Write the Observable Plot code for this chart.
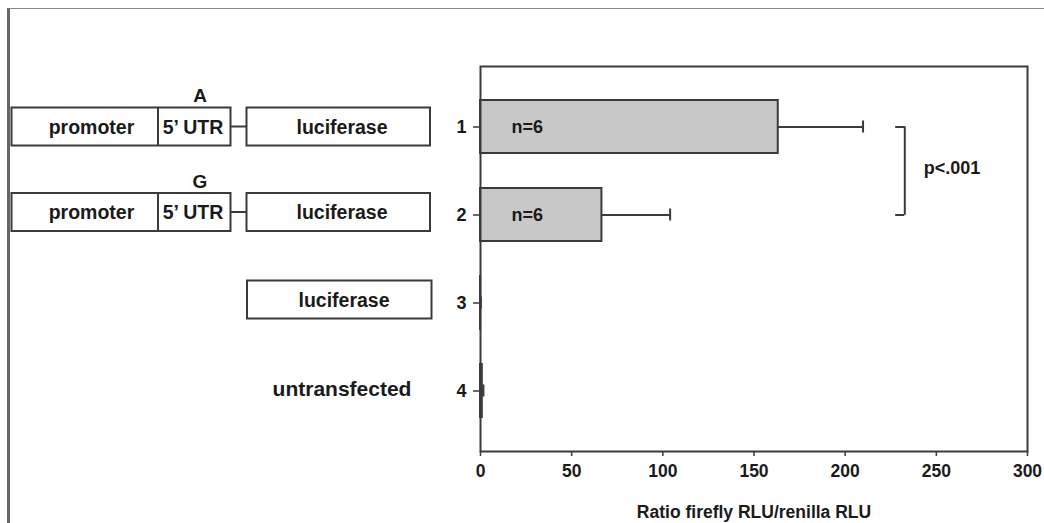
<!DOCTYPE html>
<html><head><meta charset="utf-8">
<script src="https://cdn.jsdelivr.net/npm/d3@7"></script>
<script src="https://cdn.jsdelivr.net/npm/@observablehq/plot@0.6"></script>
<style>
body{margin:0;background:#fff;}
#wrap{position:relative;width:1044px;height:523px;overflow:hidden;background:#fff;}
#border{position:absolute;left:7px;top:8px;right:-2px;bottom:-2px;border-top:1.5px solid #8a8a8a;border-left:3px solid #666;pointer-events:none;}
svg{font-family:"Liberation Sans",Arial,sans-serif;font-weight:bold;}
</style></head><body><div id="wrap"><div id="border"></div></div>
<script>
// ---- data ----
const constructs = ["1", "2", "3", "4"];
const ratio = [163.3, 66.6, 0.1, 1.0];
const sem = [46.5, 37.4, 0.1, 0.6];
const nLabels = ["n=6", "n=6", "", ""];
const alleles = ["A", "G", "", ""];
const diagramParts = [
  ["promoter", "5\u2019 UTR", "luciferase"],
  ["promoter", "5\u2019 UTR", "luciferase"],
  ["luciferase"],
  ["untransfected"]
];
const xTicks = [0, 50, 100, 150, 200, 250, 300];
const xLabel = "Ratio firefly RLU/renilla RLU";
const compared = ["1", "2"];
const pLabel = "p<.001";
const bracketX = 232.7;

const data = constructs.map((c, i) => ({construct: c, ratio: ratio[i], sem: sem[i], n: nLabels[i]}));
const ink = "#3a3a3a";
const bw = 52.5; // approx band height in px, used for insets of bracket/caps

const chart = Plot.plot({
  width: 1044,
  height: 523,
  marginLeft: 480,
  marginRight: 17,
  marginTop: 66,
  marginBottom: 72,
  style: {fontFamily: '"Liberation Sans", Arial, sans-serif', fontWeight: "bold", color: "#1a1a1a", background: "transparent"},
  x: {domain: [0, 300], ticks: xTicks, label: xLabel, labelAnchor: "center", labelArrow: "none"},
  y: {domain: constructs, paddingInner: 0.403, paddingOuter: 0.387, label: null},
  marks: [
    Plot.barX(data, {x: "ratio", y: "construct", fill: "#c8c8c8", stroke: ink, strokeWidth: 2}),
    Plot.ruleY(data, {y: "construct", x1: "ratio", x2: d => d.ratio + d.sem, stroke: ink, strokeWidth: 2}),
    Plot.tickX(data, {x: d => d.ratio + d.sem, y: "construct", insetTop: 20.5, insetBottom: 20.5, stroke: ink, strokeWidth: 2}),
    Plot.text(data, {x: 0, y: "construct", text: "n", dx: 31, textAnchor: "start", fontSize: 18, fontWeight: "bold", fill: "#1a1a1a"}),
    Plot.ruleX([bracketX], {y1: () => compared[0], y2: () => compared[1], insetTop: bw / 2, insetBottom: bw / 2, stroke: ink, strokeWidth: 2}),
    Plot.ruleY(compared, {y: d => d, x1: bracketX - 5, x2: bracketX, stroke: ink, strokeWidth: 2}),
    Plot.text([pLabel], {x: bracketX, y: () => compared[0], text: d => d, dx: 19, dy: 41, textAnchor: "start", fontSize: 18, fontWeight: "bold", fill: "#1a1a1a"}),
    Plot.frame({stroke: ink, strokeWidth: 2}),
    Plot.axisY({tickSize: 7, tickPadding: 7, fontSize: 18, stroke: ink, strokeWidth: 1.5, fill: "#1a1a1a"}),
    Plot.axisX({ticks: xTicks, tickSize: 5, tickPadding: 8, fontSize: 17.5, stroke: ink, strokeWidth: 1.5, fill: "#1a1a1a",
      label: xLabel, labelAnchor: "center", labelOffset: 66, labelArrow: "none"})
  ]
});

document.getElementById("wrap").prepend(chart);

// ---- construct diagrams, aligned to the y scale ----
const ys = chart.scale("y");
const rowShift = [0, -2.5, -3, -2];
const cy = (c, i) => ys.apply(c) + ys.bandwidth / 2 + rowShift[i];
const svg = d3.select(chart);
const g = svg.append("g").attr("fill", "none").attr("stroke", ink).attr("stroke-width", 2);
const tg = svg.append("g").attr("fill", "#1a1a1a").attr("font-size", 19.5).attr("font-weight", "bold")
  .attr("text-anchor", "middle").attr("dominant-baseline", "central");
const boxH = 38;
constructs.forEach((c, i) => {
  const y = cy(c, i);
  const parts = diagramParts[i];
  if (parts.length === 3) {
    g.append("rect").attr("x", 11.5).attr("y", y - boxH / 2).attr("width", 219).attr("height", boxH);
    g.append("line").attr("x1", 158).attr("x2", 158).attr("y1", y - boxH / 2).attr("y2", y + boxH / 2);
    g.append("line").attr("x1", 230.5).attr("x2", 246.5).attr("y1", y).attr("y2", y);
    g.append("rect").attr("x", 246.5).attr("y", y - boxH / 2).attr("width", 183.5).attr("height", boxH);
    tg.append("text").attr("x", 91.5).attr("y", y).text(parts[0]);
    tg.append("text").attr("x", 193).attr("y", y).text(parts[1]);
    tg.append("text").attr("x", 342).attr("y", y).text(parts[2]);
    tg.append("text").attr("x", 200).attr("y", y - boxH / 2 - 12).attr("font-size", 19).text(alleles[i]);
  } else if (parts[0] === "luciferase") {
    g.append("rect").attr("x", 247).attr("y", y - boxH / 2).attr("width", 184.5).attr("height", boxH);
    tg.append("text").attr("x", 344).attr("y", y).text(parts[0]);
  } else {
    tg.append("text").attr("x", 342).attr("y", y).attr("font-size", 21).text(parts[0]);
  }
});
</script>
</body></html>
